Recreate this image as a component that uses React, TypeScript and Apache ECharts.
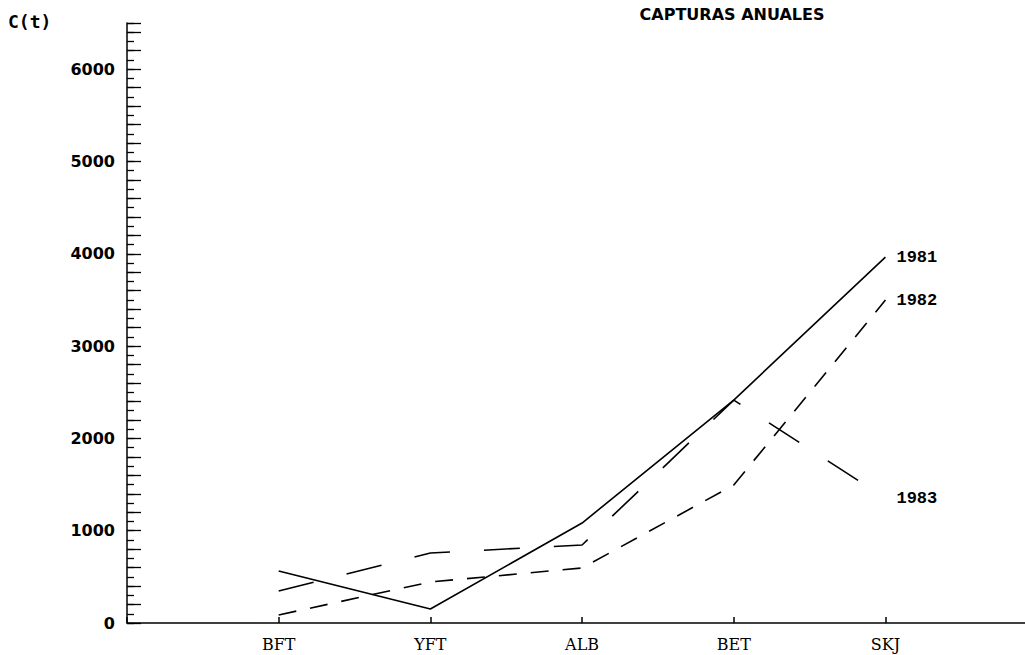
import React, { useEffect, useRef } from "react";
import * as echarts from "echarts";

const categories = ["BFT", "YFT", "ALB", "BET", "SKJ"];
const seriesNames = ["1981", "1982", "1983"];
const catch1981 = [563, 152, 1083, 2415, 3964];
const catch1982 = [87, 444, 596, 1495, 3498];
const catch1983 = [347, 758, 845, 2415, 1354];
const yLabelValues = [0, 1000, 2000, 3000, 4000, 5000, 6000];
const titleText = "CAPTURAS ANUALES";
const yAxisName = "C(t)";

const dashStyles: (string | number[])[] = ["solid", [18, 14], [36, 34]];

export default function App() {
  const ref = useRef<HTMLDivElement>(null);
  useEffect(() => {
    if (!ref.current) return;
    const chart = echarts.init(ref.current, null, { renderer: "svg" });
    const allValues = [catch1981, catch1982, catch1983];
    const series = allValues.map((vals, si) => ({
      name: seriesNames[si],
      type: "line",
      xAxisIndex: 0,
      yAxisIndex: 0,
      symbol: "none",
      data: categories.map((_, i) => [i + 1, vals[i]]),
      lineStyle: { color: "#000", width: 1.6, type: dashStyles[si] },
      endLabel: {
        show: true,
        formatter: seriesNames[si],
        distance: 11,
        color: "#000",
        fontFamily: "Liberation Mono",
        fontWeight: "bold",
        fontSize: 17,
      },
      silent: true,
    }));
    chart.setOption({
      animation: false,
      backgroundColor: "#fff",
      grid: { left: 127, right: 0, top: 23, bottom: 32 },
      xAxis: {
        type: "value",
        min: 0,
        max: 5.92,
        interval: 1,
        splitLine: { show: false },
        axisLine: { show: true, lineStyle: { color: "#000", width: 1.5 } },
        axisTick: { show: true, inside: true, length: 6, lineStyle: { color: "#000", width: 1.5 } },
        axisLabel: {
          margin: 13,
          color: "#000",
          fontFamily: "DejaVu Serif",
          fontSize: 16,
          showMaxLabel: false,
          formatter: (v: number) => {
            const idx = Math.round(v) - 1;
            return Math.abs(v - Math.round(v)) < 1e-6 && idx >= 0 && idx < categories.length
              ? categories[idx]
              : "";
          },
        },
      },
      yAxis: [
        {
          type: "value",
          min: 0,
          max: 6500,
          interval: 200,
          splitLine: { show: false },
          axisLine: { show: true, lineStyle: { color: "#000", width: 1.5 } },
          axisTick: { show: true, inside: true, length: 14, lineStyle: { color: "#000", width: 1.3 } },
          axisLabel: {
            margin: 12,
            color: "#000",
            fontFamily: "DejaVu Sans",
            fontWeight: "bold",
            fontSize: 16,
            formatter: (v: number) => (yLabelValues.indexOf(v) >= 0 ? String(v) : ""),
          },
        },
        {
          type: "value",
          min: 0,
          max: 6500,
          interval: 100,
          position: "left",
          splitLine: { show: false },
          axisLine: { show: false },
          axisTick: { show: true, inside: true, length: 7, lineStyle: { color: "#000", width: 1.3 } },
          axisLabel: { show: false },
        },
      ],
      graphic: [
        {
          type: "text",
          left: 8,
          top: 12,
          style: {
            text: yAxisName,
            fill: "#000",
            font: "bold 18px 'DejaVu Sans Mono'",
          },
        },
        {
          type: "text",
          x: 732,
          y: 14,
          style: {
            text: titleText,
            fill: "#000",
            font: "bold 16px 'DejaVu Sans'",
            align: "center",
            verticalAlign: "middle",
          },
        },
      ],
      series,
    });
    return () => chart.dispose();
  }, []);
  return (
    <div
      ref={ref}
      style={{ position: "absolute", left: 0, top: 0, width: 1025, height: 655, background: "#fff" }}
    />
  );
}
